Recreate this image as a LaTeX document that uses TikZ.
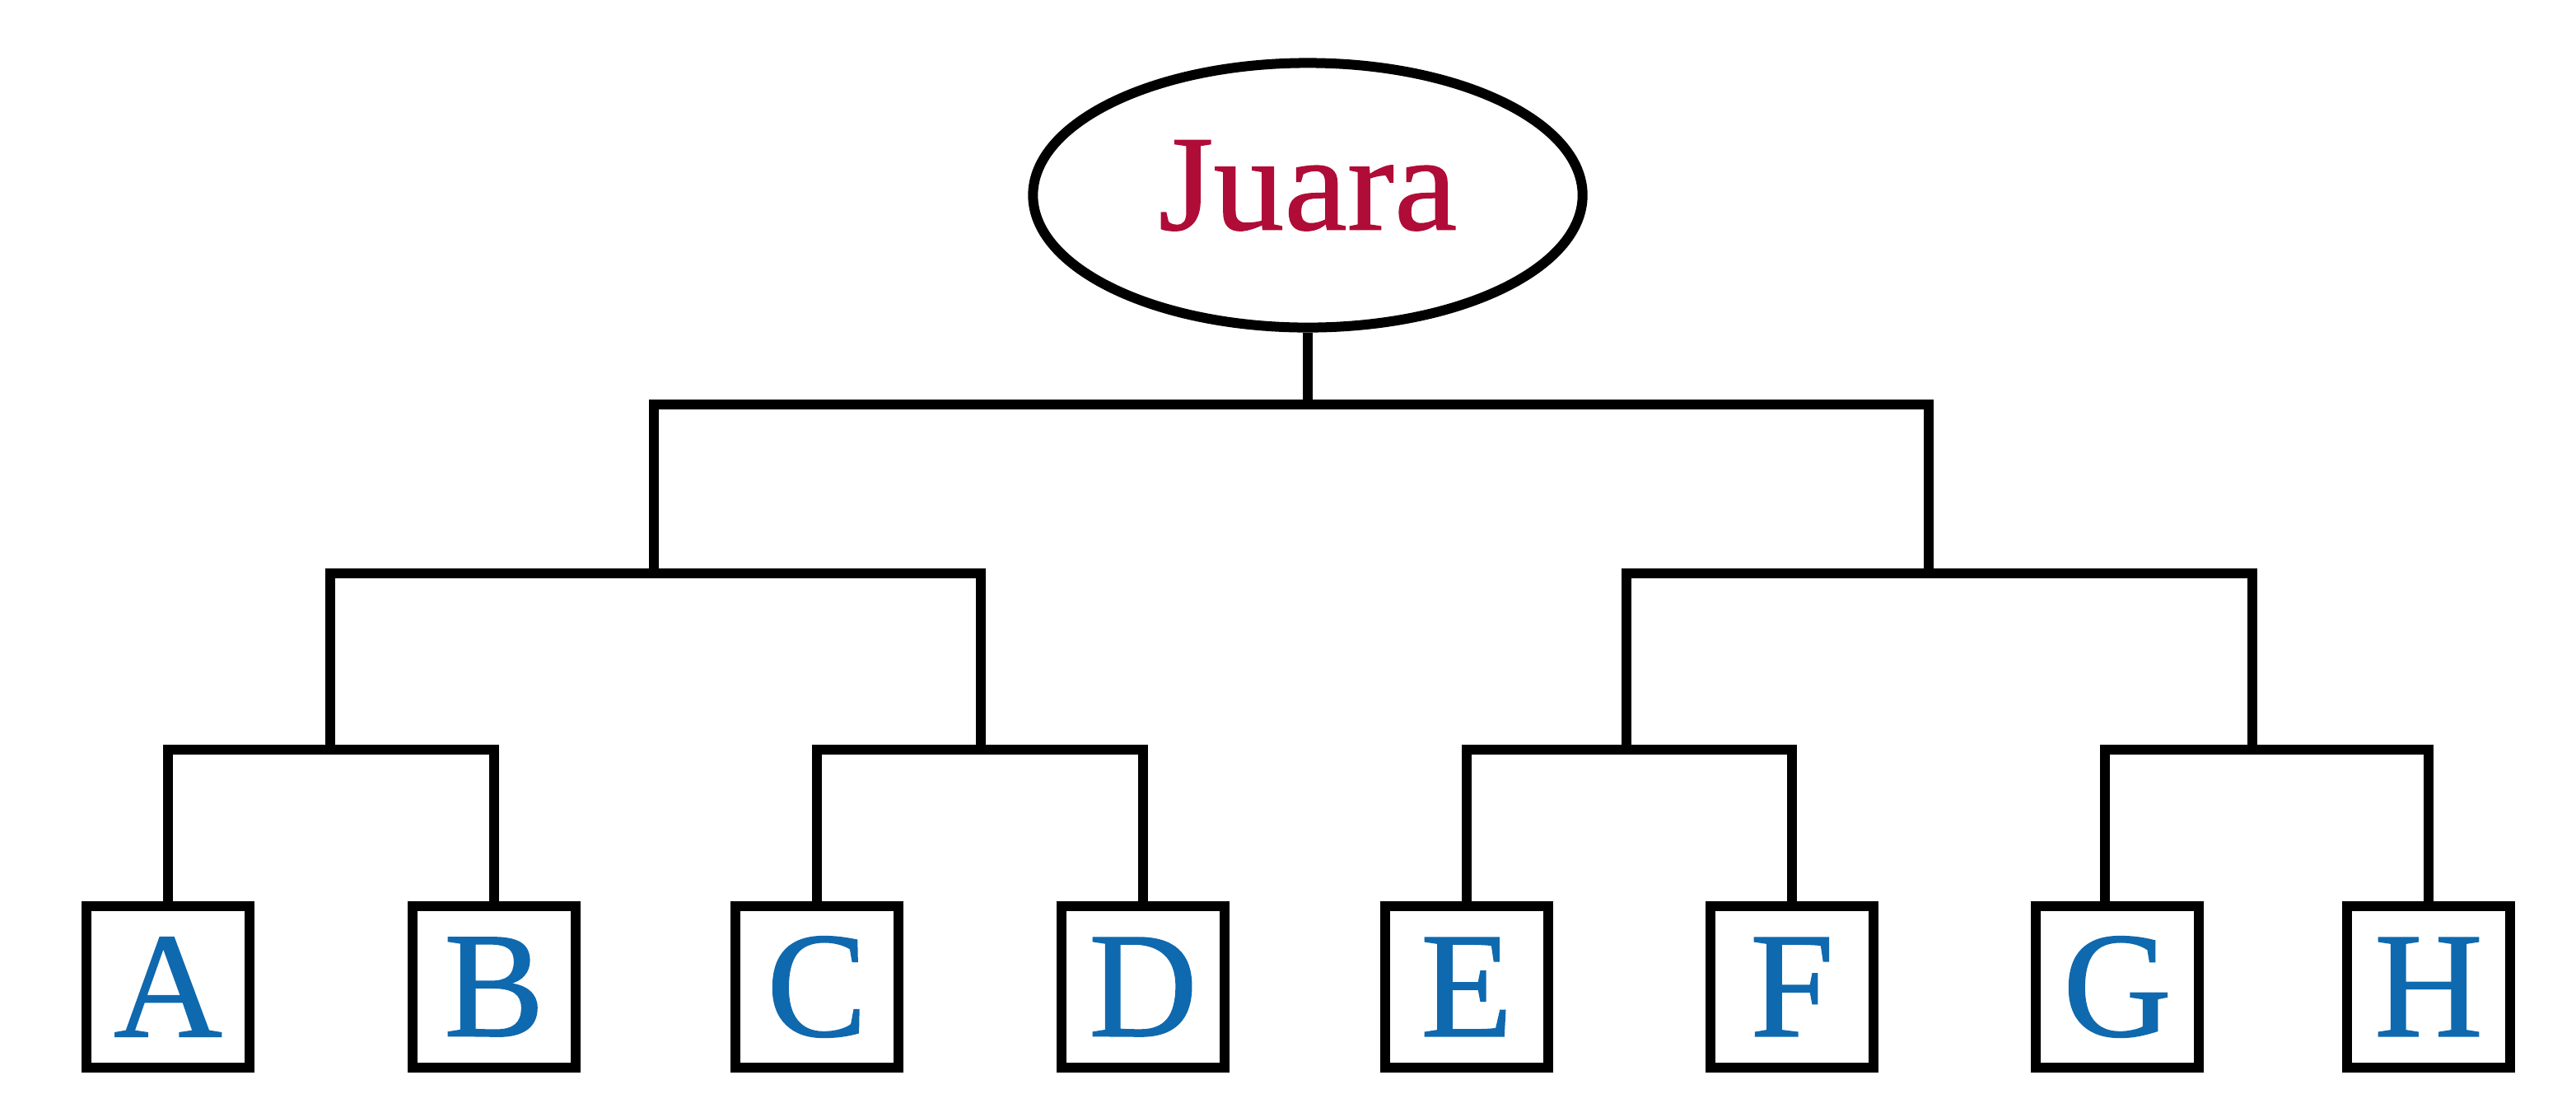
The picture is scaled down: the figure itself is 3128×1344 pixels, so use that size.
\documentclass[tikz,border=0pt]{standalone}
\usepackage{fontspec}
\setmainfont{Liberation Serif}
\newfontfamily\rootfont[FakeBold=0.8,FakeStretch=1.04]{Liberation Serif}
\newfontfamily\leaffont[FakeBold=0.8]{Liberation Serif}
\usetikzlibrary{shapes.geometric}
\definecolor{rootred}{RGB}{176,12,56}
\definecolor{leafblue}{RGB}{15,105,175}
\begin{document}
\begin{tikzpicture}[x=0.01cm,y=-0.01cm,
  conn/.style={draw=black,line width=0.12cm,line join=miter},
  rootnode/.style={ellipse,draw=black,line width=0.12cm,minimum width=6.67cm,minimum height=3.21cm,inner sep=0pt,
    text=rootred,font=\rootfont\fontsize{47}{47}\selectfont},
  leaf/.style={rectangle,draw=black,line width=0.12cm,minimum width=1.98cm,minimum height=1.95cm,inner sep=0pt,
    text=leafblue,font=\leaffont\fontsize{52}{52}\selectfont}]
\useasboundingbox (0,0) rectangle (3128,1344);
\node[rootnode] (root) at (1588,237) {\raisebox{0.25cm}{Juara}};
\node[leaf] (A) at (204,1198) {A};
\node[leaf] (B) at (600,1198) {B};
\node[leaf] (C) at (992,1198) {C};
\node[leaf] (D) at (1388,1198) {D};
\node[leaf] (E) at (1781,1198) {E};
\node[leaf] (F) at (2176,1198) {F};
\node[leaf] (G) at (2571,1198) {G};
\node[leaf] (H) at (2949,1198) {H};
% junctions
\coordinate (ab) at (401,910);
\coordinate (cd) at (1191,910);
\coordinate (ef) at (1975,910);
\coordinate (gh) at (2735,910);
\coordinate (abcd) at (794,696);
\coordinate (efgh) at (2342,696);
\coordinate (top) at (1588,491);
% leaf brackets
\draw[conn] (A.north) -- (A.north |- ab) -- (B.north |- ab) -- (B.north);
\draw[conn] (C.north) -- (C.north |- cd) -- (D.north |- cd) -- (D.north);
\draw[conn] (E.north) -- (E.north |- ef) -- (F.north |- ef) -- (F.north);
\draw[conn] ([xshift=-0.15cm]G.north) -- ([xshift=-0.15cm]G.north |- gh) -- (H.north |- gh) -- (H.north);
% level 2
\draw[conn] (ab) -- (ab |- abcd) -- (cd |- abcd) -- (cd);
\draw[conn] (ef) -- (ef |- efgh) -- (gh |- efgh) -- (gh);
% level 1
\draw[conn] (abcd) -- (abcd |- top) -- (efgh |- top) -- (efgh);
\draw[conn] (root.south) -- (top);
\end{tikzpicture}
\end{document}
